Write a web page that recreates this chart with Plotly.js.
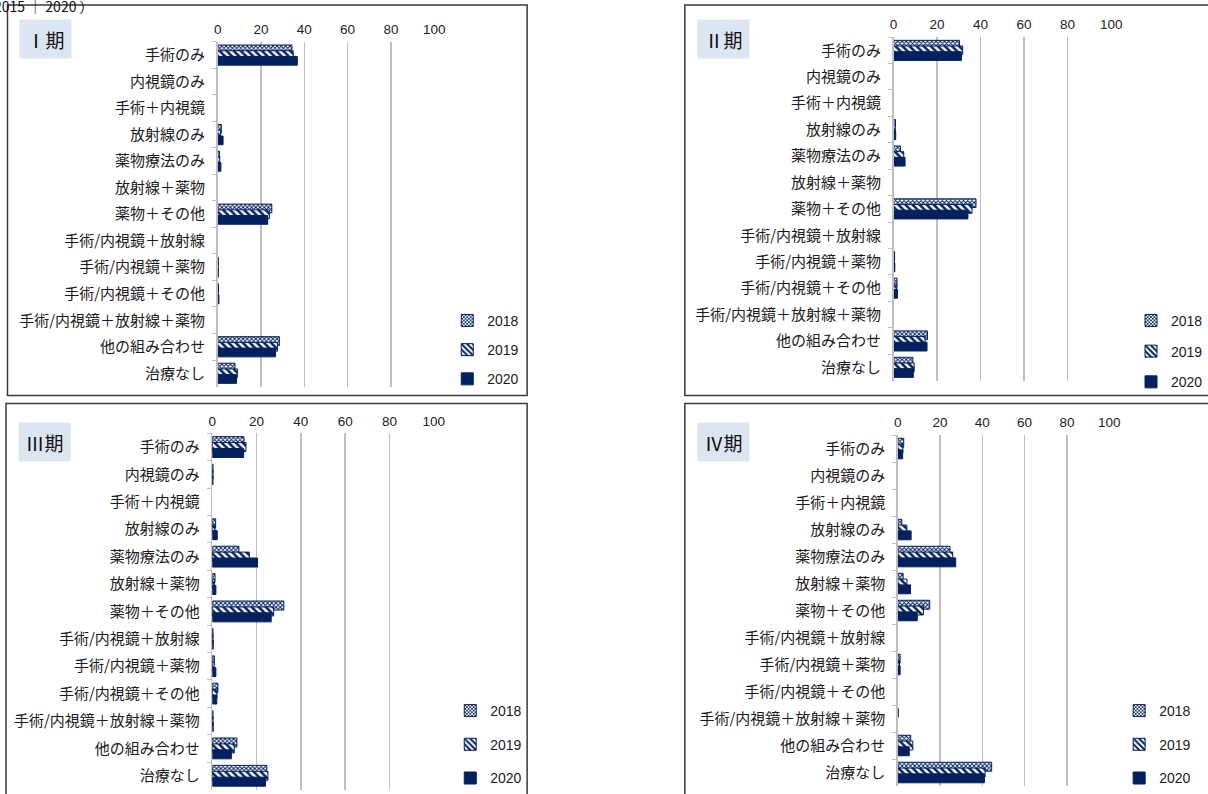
<!DOCTYPE html>
<html><head><meta charset="utf-8">
<script src="https://cdn.plot.ly/plotly-3.0.1.min.js"></script>
<style>html,body{margin:0;padding:0;background:#fff;}#chart{width:1208px;height:794px;}</style>
</head><body><div id="chart"></div>
<script>
const categories = ['手術のみ','内視鏡のみ','手術＋内視鏡','放射線のみ','薬物療法のみ','放射線＋薬物','薬物＋その他','手術/内視鏡＋放射線','手術/内視鏡＋薬物','手術/内視鏡＋その他','手術/内視鏡＋放射線＋薬物','他の組み合わせ','治療なし'];
const years = ['2018','2019','2020'];
const stageNames = ['Ⅰ期','Ⅱ期','Ⅲ期','Ⅳ期'];
const xTicks = [0,20,40,60,80,100];

const s1_2018 = [34.3,0,0,1.7,0.8,0,25.0,0,0.3,0.4,0,28.5,8.0];
const s1_2019 = [34.9,0,0,1.3,1.0,0,23.9,0,0.2,0.3,0,27.6,9.1];
const s1_2020 = [36.8,0,0,2.5,1.5,0,23.1,0,0.3,0.6,0,26.7,8.7];

const s2_2018 = [30.3,0,0,0.9,3.2,0,37.9,0,0.5,1.6,0,15.6,8.9];
const s2_2019 = [31.8,0,0,0.8,4.7,0,36.1,0,0.4,1.5,0,14.5,9.5];
const s2_2020 = [31.2,0,0,1.0,5.3,0,34.2,0,0.6,1.8,0,15.4,9.1];

const s3_2018 = [14.3,0.3,0,1.5,12.0,1.2,32.3,0.3,0.9,2.5,0.3,11.1,24.6];
const s3_2019 = [15.2,0.3,0,1.2,16.7,1.0,27.7,0.3,0.8,2.1,0.3,9.9,25.1];
const s3_2020 = [14.1,0.3,0,2.2,20.4,1.6,26.6,0.4,1.6,2.0,0.4,8.6,24.0];

const s4_2018 = [2.8,0,0,1.9,24.7,2.5,15.1,0,1.1,0,0.2,6.1,44.4];
const s4_2019 = [2.4,0,0,4.3,26.0,4.3,12.1,0,0.8,0,0,7.1,41.3];
const s4_2020 = [2.3,0,0,6.3,27.4,6.0,9.2,0,1.1,0,0,5.4,41.0];

const stageData = [
  [s1_2018,s1_2019,s1_2020],
  [s2_2018,s2_2019,s2_2020],
  [s3_2018,s3_2019,s3_2020],
  [s4_2018,s4_2019,s4_2020]
];

const W = 1208, H = 794;
const fx = p => p / W;
const fy = p => 1 - p / H;
const NAVY = '#002060';

// layout geometry in pixels
const panels = [
  {xr:[218,435],   yr:[42,388],    tbox:[19,19,70,57],    box:[7.5,5,528,397],     leg:[448,306], gap:8},
  {xr:[895,1113],  yr:[37.3,382],  tbox:[698,19,749,57],  box:[686,5,1215,397],    leg:[1133,306], gap:9.5},
  {xr:[212.7,434.4],yr:[435,792.5],tbox:[18,424,69,462],  box:[6,405,528,800],     leg:[451,698], gap:12.5},
  {xr:[899.3,1111],yr:[436.7,789], tbox:[698,424,749,462],box:[686,405,1215,800],  leg:[1121,698], gap:12.5}
];

const styles = [
  {color:'#ffffff', pattern:{shape:'x', fgcolor:NAVY, bgcolor:'#ffffff', size:3, solidity:0.55, fillmode:'replace'}},
  {color:'#ffffff', pattern:{shape:'\\', fgcolor:NAVY, bgcolor:'#ffffff', size:5, solidity:0.5, fillmode:'replace'}},
  {color:NAVY}
];
const offsets = [-0.38,-0.165,0.05];
const barW = 0.33;

const traces = [];
const layout = {
  width: W, height: H,
  margin:{l:0,r:0,t:0,b:0},
  paper_bgcolor:'#ffffff', plot_bgcolor:'rgba(0,0,0,0)',
  barmode:'overlay',
  showlegend:true,
  annotations:[], shapes:[]
};

panels.forEach((p, i) => {
  const n = i === 0 ? '' : String(i+1);
  const legName = 'legend' + n;
  stageData[i].forEach((vals, k) => {
    const m = {color: styles[k].color, line:{color:NAVY, width:1}};
    if (styles[k].pattern) m.pattern = styles[k].pattern;
    traces.push({
      type:'bar', orientation:'h',
      x: vals.map(v => v === 0 ? null : v), y: categories,
      name: years[k],
      xaxis:'x'+n, yaxis:'y'+n,
      legend: legName, legendgroup: 'g'+i+'_'+k,
      offset: offsets[k], width: barW,
      marker: m,
      hoverinfo:'x+name'
    });
  });
  layout['xaxis'+n] = {
    domain:[fx(p.xr[0]), fx(p.xr[1])],
    anchor:'y'+n, side:'top', range:[0,100],
    tickvals: xTicks, ticktext: xTicks.map(String),
    showgrid:true, gridcolor:'#bfbfbf', gridwidth:1.5,
    zeroline:false, showline:false, ticks:'',
    ticklabelstandoff: 4,
    tickfont:{family:'Liberation Sans, Arial, sans-serif', size:13.5, color:'#222'},
    fixedrange:true
  };
  layout['yaxis'+n] = {
    domain:[fy(p.yr[1]), fy(p.yr[0])],
    anchor:'x'+n, type:'category',
    categoryorder:'array', categoryarray: categories,
    range:[categories.length-0.5, -0.5],
    showgrid:false, zeroline:false,
    showline:true, linecolor:'#bfbfbf', linewidth:1.5,
    ticks:'outside', ticklen:4, tickcolor:'#bfbfbf', tickwidth:1, tickson:'boundaries',
    ticklabelstandoff: 8,
    tickfont:{family:'Noto Sans CJK JP, sans-serif', size:15, color:'#1a1a1a'},
    fixedrange:true
  };
  layout[legName] = {
    x: fx(p.leg[0]), y: fy(p.leg[1]), xanchor:'left', yanchor:'top',
    orientation:'v', bgcolor:'rgba(0,0,0,0)', borderwidth:0,
    tracegroupgap: p.gap, itemwidth:30,
    font:{family:'Liberation Sans, Arial, sans-serif', size:14, color:'#1a1a1a'}
  };
  layout.shapes.push({
    type:'rect', xref:'paper', yref:'paper', layer:'below',
    x0: fx(p.box[0]), x1: fx(p.box[2]), y0: fy(p.box[3]), y1: fy(p.box[1]),
    line:{color:'#3a3a3a', width:1.5}, fillcolor:'rgba(0,0,0,0)'
  });
  layout.annotations.push({
    xref:'paper', yref:'paper', x: fx(p.tbox[0]), y: fy(p.tbox[1]),
    xanchor:'left', yanchor:'top', showarrow:false,
    width: p.tbox[2]-p.tbox[0], height: p.tbox[3]-p.tbox[1],
    bgcolor:'#dce6f2', borderpad:0, align:'center', valign:'middle',
    text: stageNames[i],
    font:{family:'Noto Sans CJK JP, sans-serif', size:19, color:'#111'}
  });
});

// caption partly visible at the very top, as in the reference
layout.annotations.push({
  xref:'paper', yref:'paper', x: fx(-8), y: fy(-6), xanchor:'left', yanchor:'top',
  showarrow:false, text:'2015 ｜ 2020 ）',
  font:{family:'Noto Sans CJK JP, sans-serif', size:14, color:'#111'}
});

Plotly.newPlot('chart', traces, layout, {displayModeBar:false, staticPlot:true});
</script>
</body></html>
